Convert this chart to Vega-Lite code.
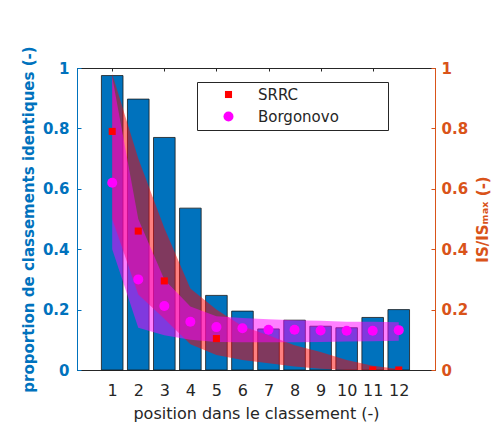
{
  "$schema": "https://vega.github.io/schema/vega-lite/v6.json",
  "width": 358,
  "height": 302,
  "autosize": {"type": "none"},
  "padding": {"left": 77, "top": 68, "right": 59, "bottom": 56},
  "background": "white",
  "config": {
    "font": "DejaVu Sans",
    "view": {"stroke": "#262626", "strokeWidth": 1}
  },
  "datasets": {
    "bars": [
      {"pos": 1, "prop": 0.975},
      {"pos": 2, "prop": 0.897},
      {"pos": 3, "prop": 0.77},
      {"pos": 4, "prop": 0.536},
      {"pos": 5, "prop": 0.247},
      {"pos": 6, "prop": 0.195},
      {"pos": 7, "prop": 0.136},
      {"pos": 8, "prop": 0.165},
      {"pos": 9, "prop": 0.145},
      {"pos": 10, "prop": 0.14},
      {"pos": 11, "prop": 0.174},
      {"pos": 12, "prop": 0.2}
    ],
    "srrcBand": [
      {"pos": 1, "lo": 0.5, "hi": 0.98},
      {"pos": 2, "lo": 0.25, "hi": 0.7},
      {"pos": 3, "lo": 0.17, "hi": 0.47},
      {"pos": 4, "lo": 0.085, "hi": 0.27},
      {"pos": 5, "lo": 0.05, "hi": 0.2},
      {"pos": 6, "lo": 0.033, "hi": 0.145},
      {"pos": 7, "lo": 0.022, "hi": 0.115},
      {"pos": 8, "lo": 0.012, "hi": 0.082},
      {"pos": 9, "lo": 0.004, "hi": 0.06},
      {"pos": 10, "lo": 0.0, "hi": 0.033},
      {"pos": 11, "lo": 0.0, "hi": 0.014},
      {"pos": 12, "lo": 0.0, "hi": 0.003}
    ],
    "borgBand": [
      {"pos": 1, "lo": 0.4, "hi": 0.97},
      {"pos": 2, "lo": 0.14, "hi": 0.5},
      {"pos": 3, "lo": 0.115, "hi": 0.3},
      {"pos": 4, "lo": 0.1, "hi": 0.21},
      {"pos": 5, "lo": 0.093, "hi": 0.178},
      {"pos": 6, "lo": 0.092, "hi": 0.172},
      {"pos": 7, "lo": 0.092, "hi": 0.168},
      {"pos": 8, "lo": 0.092, "hi": 0.165},
      {"pos": 9, "lo": 0.093, "hi": 0.163},
      {"pos": 10, "lo": 0.094, "hi": 0.16},
      {"pos": 11, "lo": 0.095, "hi": 0.16},
      {"pos": 12, "lo": 0.097, "hi": 0.158}
    ],
    "points": [
      {"pos": 1, "series": "SRRC", "val": 0.79},
      {"pos": 2, "series": "SRRC", "val": 0.46},
      {"pos": 3, "series": "SRRC", "val": 0.295},
      {"pos": 5, "series": "SRRC", "val": 0.104},
      {"pos": 11, "series": "SRRC", "val": 0.0},
      {"pos": 12, "series": "SRRC", "val": 0.0},
      {"pos": 1, "series": "Borgonovo", "val": 0.62},
      {"pos": 2, "series": "Borgonovo", "val": 0.3},
      {"pos": 3, "series": "Borgonovo", "val": 0.212},
      {"pos": 4, "series": "Borgonovo", "val": 0.16},
      {"pos": 5, "series": "Borgonovo", "val": 0.142},
      {"pos": 6, "series": "Borgonovo", "val": 0.138},
      {"pos": 7, "series": "Borgonovo", "val": 0.133},
      {"pos": 8, "series": "Borgonovo", "val": 0.133},
      {"pos": 9, "series": "Borgonovo", "val": 0.131},
      {"pos": 10, "series": "Borgonovo", "val": 0.13},
      {"pos": 11, "series": "Borgonovo", "val": 0.13},
      {"pos": 12, "series": "Borgonovo", "val": 0.132}
    ]
  },
  "layer": [
    {
      "data": {"name": "bars"},
      "mark": {"type": "bar", "size": 21.6, "color": "#0072BD", "stroke": "#1a1a1a", "strokeWidth": 0.8},
      "encoding": {
        "x": {
          "field": "pos", "type": "quantitative",
          "scale": {"domain": [-0.16, 13.2], "nice": false, "zero": false},
          "axis": {
            "orient": "bottom",
            "values": [1, 2, 3, 4, 5, 6, 7, 8, 9, 10, 11, 12],
            "grid": false,
            "tickSize": -4,
            "tickColor": "#262626",
            "domainColor": "#262626",
            "labelFontSize": 16,
            "labelFontWeight": 500,
            "labelColor": "#262626",
            "labelPadding": 16,
            "labelFlush": false,
            "title": "position dans le classement (-)",
            "titleFontSize": 16,
            "titleFontWeight": "normal",
            "titleColor": "#262626",
            "titlePadding": 7
          }
        },
        "y": {
          "field": "prop", "type": "quantitative",
          "scale": {"domain": [0, 1], "nice": false},
          "axis": {
            "orient": "left",
            "values": [0, 0.2, 0.4, 0.6, 0.8, 1],
            "format": "~g",
            "grid": false,
            "tickSize": -4,
            "tickColor": "#0072BD",
            "domainColor": "#0072BD",
            "labelFontSize": 15,
            "labelFontWeight": "bold",
            "labelColor": "#0072BD",
            "labelPadding": 12,
            "title": "proportion de classements identiques (-)",
            "titleFontSize": 15,
            "titleFontWeight": "bold",
            "titleColor": "#0072BD",
            "titlePadding": 6
          }
        }
      }
    },
    {
      "layer": [
        {
          "data": {"name": "srrcBand"},
          "mark": {"type": "area", "color": "#FF0000", "opacity": 0.5},
          "encoding": {
            "x": {
              "field": "pos", "type": "quantitative",
              "scale": {"domain": [-0.16, 13.2], "nice": false, "zero": false},
              "axis": {
                "orient": "top",
                "values": [1, 2, 3, 4, 5, 6, 7, 8, 9, 10, 11, 12],
                "grid": false,
                "labels": false,
                "domain": false,
                "tickSize": -3,
                "tickColor": "#262626",
                "title": null
              }
            },
            "y": {
              "field": "hi", "type": "quantitative",
              "scale": {"domain": [0, 1], "nice": false},
              "axis": {
                "orient": "right",
                "values": [0, 0.2, 0.4, 0.6, 0.8, 1],
                "format": "~g",
                "grid": false,
                "tickSize": -4,
                "tickColor": "#D95319",
                "domainColor": "#D95319",
                "labelFontSize": 15,
                "labelFontWeight": "bold",
                "labelColor": "#D95319",
                "labelPadding": 10,
                "title": "IS/ISₘₐₓ (-)",
                "titleFontSize": 15,
                "titleFontWeight": "bold",
                "titleColor": "#D95319",
                "titleAngle": 270,
                "titleBaseline": "bottom",
                "titlePadding": 23
              }
            },
            "y2": {"field": "lo"}
          }
        },
        {
          "data": {"name": "borgBand"},
          "mark": {"type": "area", "color": "#FF00FF", "opacity": 0.5},
          "encoding": {
            "x": {"field": "pos", "type": "quantitative"},
            "y": {"field": "hi", "type": "quantitative"},
            "y2": {"field": "lo"}
          }
        },
        {
          "data": {"name": "points"},
          "mark": {"type": "point", "filled": true, "opacity": 1, "clip": true},
          "encoding": {
            "x": {"field": "pos", "type": "quantitative"},
            "y": {"field": "val", "type": "quantitative"},
            "color": {
              "field": "series", "type": "nominal",
              "scale": {"domain": ["SRRC", "Borgonovo"], "range": ["#FF0000", "#FF00FF"]},
              "legend": {
                "title": null,
                "orient": "none",
                "legendX": 120,
                "legendY": 14,
                "fillColor": "white",
                "strokeColor": "#262626",
                "padding": 5,
                "rowPadding": 6,
                "symbolOffset": 19,
                "labelOffset": 22,
                "labelFontSize": 15,
                "labelColor": "#262626",
                "labelExpr": "datum.label + '\u2800\u2800\u2800\u2800'"
              }
            },
            "shape": {
              "field": "series", "type": "nominal",
              "scale": {"domain": ["SRRC", "Borgonovo"], "range": ["square", "circle"]}
            },
            "size": {
              "field": "series", "type": "nominal",
              "scale": {"domain": ["SRRC", "Borgonovo"], "range": [50, 100]}
            }
          }
        }
      ]
    }
  ],
  "resolve": {"scale": {"y": "independent"}, "axis": {"x": "independent"}}
}
